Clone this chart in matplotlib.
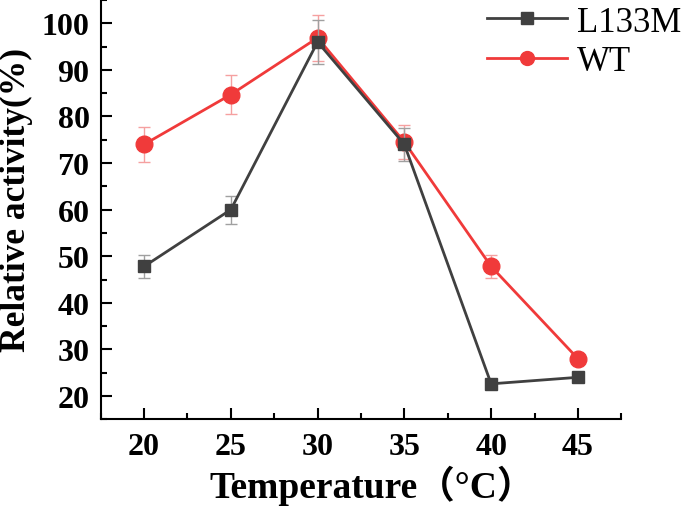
import matplotlib
matplotlib.use("Agg")
import matplotlib.pyplot as plt
from matplotlib.ticker import MultipleLocator

temps = [20, 25, 30, 35, 40, 45]
l133m = [47.8, 60.0, 96.0, 74.0, 22.6, 24.0]
l133m_err = [2.4, 3.0, 4.8, 3.5, 0.0, 0.0]
wt = [74.0, 84.7, 96.9, 74.5, 47.8, 28.0]
wt_err = [3.7, 4.2, 4.9, 3.7, 2.4, 0.0]

plt.rcParams['font.family'] = ['Liberation Serif', 'Noto Sans CJK SC']

fig = plt.figure(figsize=(6.85, 5.1), dpi=100)
ax = fig.add_axes([0.147, 0.176, 0.76, 0.822])

gray = '#404040'
red = '#f03a3a'
ax.errorbar(temps, l133m, yerr=l133m_err, color=gray, marker='s', markersize=9,
            lw=2, ecolor='#a0a0a0', elinewidth=1, capsize=4, capthick=1, zorder=3)
ax.errorbar(temps, wt, yerr=wt_err, color=red, marker='o', markersize=12,
            lw=2, ecolor='#f5a0a0', elinewidth=1, capsize=4, capthick=1, zorder=2)

ax.set_xlim(17.5, 47.5)
ax.set_ylim(15, 105)
ax.set_xticks(temps)
ax.xaxis.set_minor_locator(MultipleLocator(2.5))
ax.set_yticks(range(20, 101, 10))
ax.yaxis.set_minor_locator(MultipleLocator(5))
for s in ['top', 'right']:
    ax.spines[s].set_visible(False)
for s in ['left', 'bottom']:
    ax.spines[s].set_linewidth(1.5)
ax.tick_params(which='major', direction='in', length=8, width=1.5, labelsize=23)
ax.tick_params(which='minor', direction='in', length=4, width=1.5)
ax.tick_params(axis='y', which='major', pad=8)
ax.tick_params(axis='x', which='major', pad=9)
for lab in ax.get_xticklabels() + ax.get_yticklabels():
    lab.set_fontweight('bold')

ax.set_xlabel('Temperature（°C）', fontsize=27, fontweight='bold')
ax.xaxis.set_label_coords(0.5 + 11 / 520, -0.108)
ax.set_ylabel('Relative activity(%)', fontsize=25.5, fontweight='bold')
ax.yaxis.set_label_coords(-0.13, 0.5 + 11 / 420)

h1, = ax.plot([], [], color=gray, marker='s', markersize=8, lw=2)
h2, = ax.plot([], [], color=red, marker='o', markersize=10, lw=2)
ax.legend([h1, h2], ['L133M', 'WT'], loc='upper left', bbox_to_anchor=(0.715, 1.02),
          frameon=False, fontsize=25, handlelength=2.3, handletextpad=0.3,
          labelspacing=0.2, borderaxespad=0)

fig.savefig('out.png', dpi=100)
